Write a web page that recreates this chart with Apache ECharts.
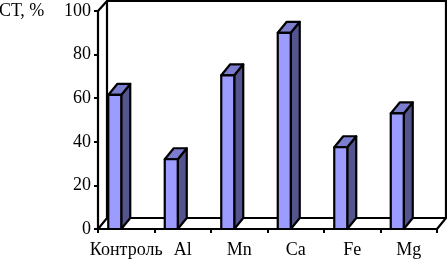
<!DOCTYPE html>
<html>
<head>
<meta charset="utf-8">
<style>html,body{margin:0;padding:0;background:#fff}#c{width:447px;height:260px}</style>
<script src="https://cdn.jsdelivr.net/npm/echarts@6/dist/echarts.min.js"></script>
</head>
<body>
<div id="c"></div>
<script>
const categories = ['Контроль', 'Al', 'Mn', 'Ca', 'Fe', 'Mg'];
const values = [61.5, 32, 70.5, 90, 37.5, 53];
const yTicks = [0, 20, 40, 60, 80, 100];
const yName = 'СТ, %';

const DX = 9, DY = 11, W = 13, OFF = -18;
const FONT = '"Liberation Serif","Times New Roman",serif';
const chart = echarts.init(document.getElementById('c'), null, {renderer: 'canvas'});

function renderBar(params, api) {
  const p0 = api.coord([api.value(0), 0]);
  const p1 = api.coord([api.value(0), api.value(1)]);
  const x = p0[0] + OFF, yb = p0[1], yt = p1[1];
  const line = {stroke: '#000', lineWidth: 2.2, lineJoin: 'round'};
  return {type: 'group', children: [
    {type: 'polygon', shape: {points: [[x + W, yb], [x + W + DX, yb - DY], [x + W + DX, yt - DY], [x + W, yt]]},
     style: Object.assign({fill: '#54548f'}, line)},
    {type: 'polygon', shape: {points: [[x, yt], [x + W, yt], [x + W + DX, yt - DY], [x + DX, yt - DY]]},
     style: Object.assign({fill: '#7d7dcf'}, line)},
    {type: 'rect', shape: {x: x, y: yt, width: W, height: yb - yt},
     style: Object.assign({fill: '#9c9cff'}, line)}
  ]};
}

function renderFrame(params, api) {
  const c = params.coordSys;
  const l = c.x, r = c.x + c.width, t = c.y, b = c.y + c.height;
  const s = {stroke: '#000', lineWidth: 2.2, fill: null};
  const pl = pts => ({type: 'polyline', shape: {points: pts}, style: s});
  return {type: 'group', children: [
    pl([[l, b], [l + DX, b - DY], [r + DX, b - DY], [r, b]]),
    pl([[l, t], [l + DX, t - DY + 1], [l + DX, b - DY]]),
    pl([[l + DX, t - DY + 1], [r + DX, t - DY + 1], [r + DX, b - DY]])
  ]};
}

chart.setOption({
  animation: false,
  backgroundColor: '#fff',
  title: {text: yName, left: -1, top: 2, padding: 0,
    textStyle: {fontFamily: FONT, fontSize: 18, fontWeight: 'normal', color: '#000'}},
  grid: {left: 98, right: 10, top: 11, bottom: 31, containLabel: false},
  xAxis: {
    type: 'category', data: categories, boundaryGap: true,
    axisLine: {show: true, onZero: false, lineStyle: {color: '#000', width: 2.2}},
    axisTick: {show: true, alignWithLabel: false, length: 4, lineStyle: {color: '#000', width: 2}},
    axisLabel: {interval: 0, color: '#000', fontFamily: FONT, fontSize: 18, margin: 12},
    splitLine: {show: false}
  },
  yAxis: {
    type: 'value', min: yTicks[0], max: yTicks[yTicks.length - 1], interval: yTicks[1] - yTicks[0],
    axisLine: {show: true, lineStyle: {color: '#000', width: 2.2}},
    axisTick: {show: true, length: 4, lineStyle: {color: '#000', width: 2}},
    axisLabel: {color: '#000', fontFamily: FONT, fontSize: 18, margin: 7},
    splitLine: {show: false}
  },
  series: [
    {type: 'custom', renderItem: renderFrame, data: [0], silent: true, z: 1, clip: false,
     encode: {x: -1, y: -1}},
    {type: 'custom', name: 'СТ', renderItem: renderBar, z: 3, clip: false,
     data: categories.map((c, i) => [i, values[i]]), encode: {x: 0, y: 1}}
  ]
});
</script>
</body>
</html>
